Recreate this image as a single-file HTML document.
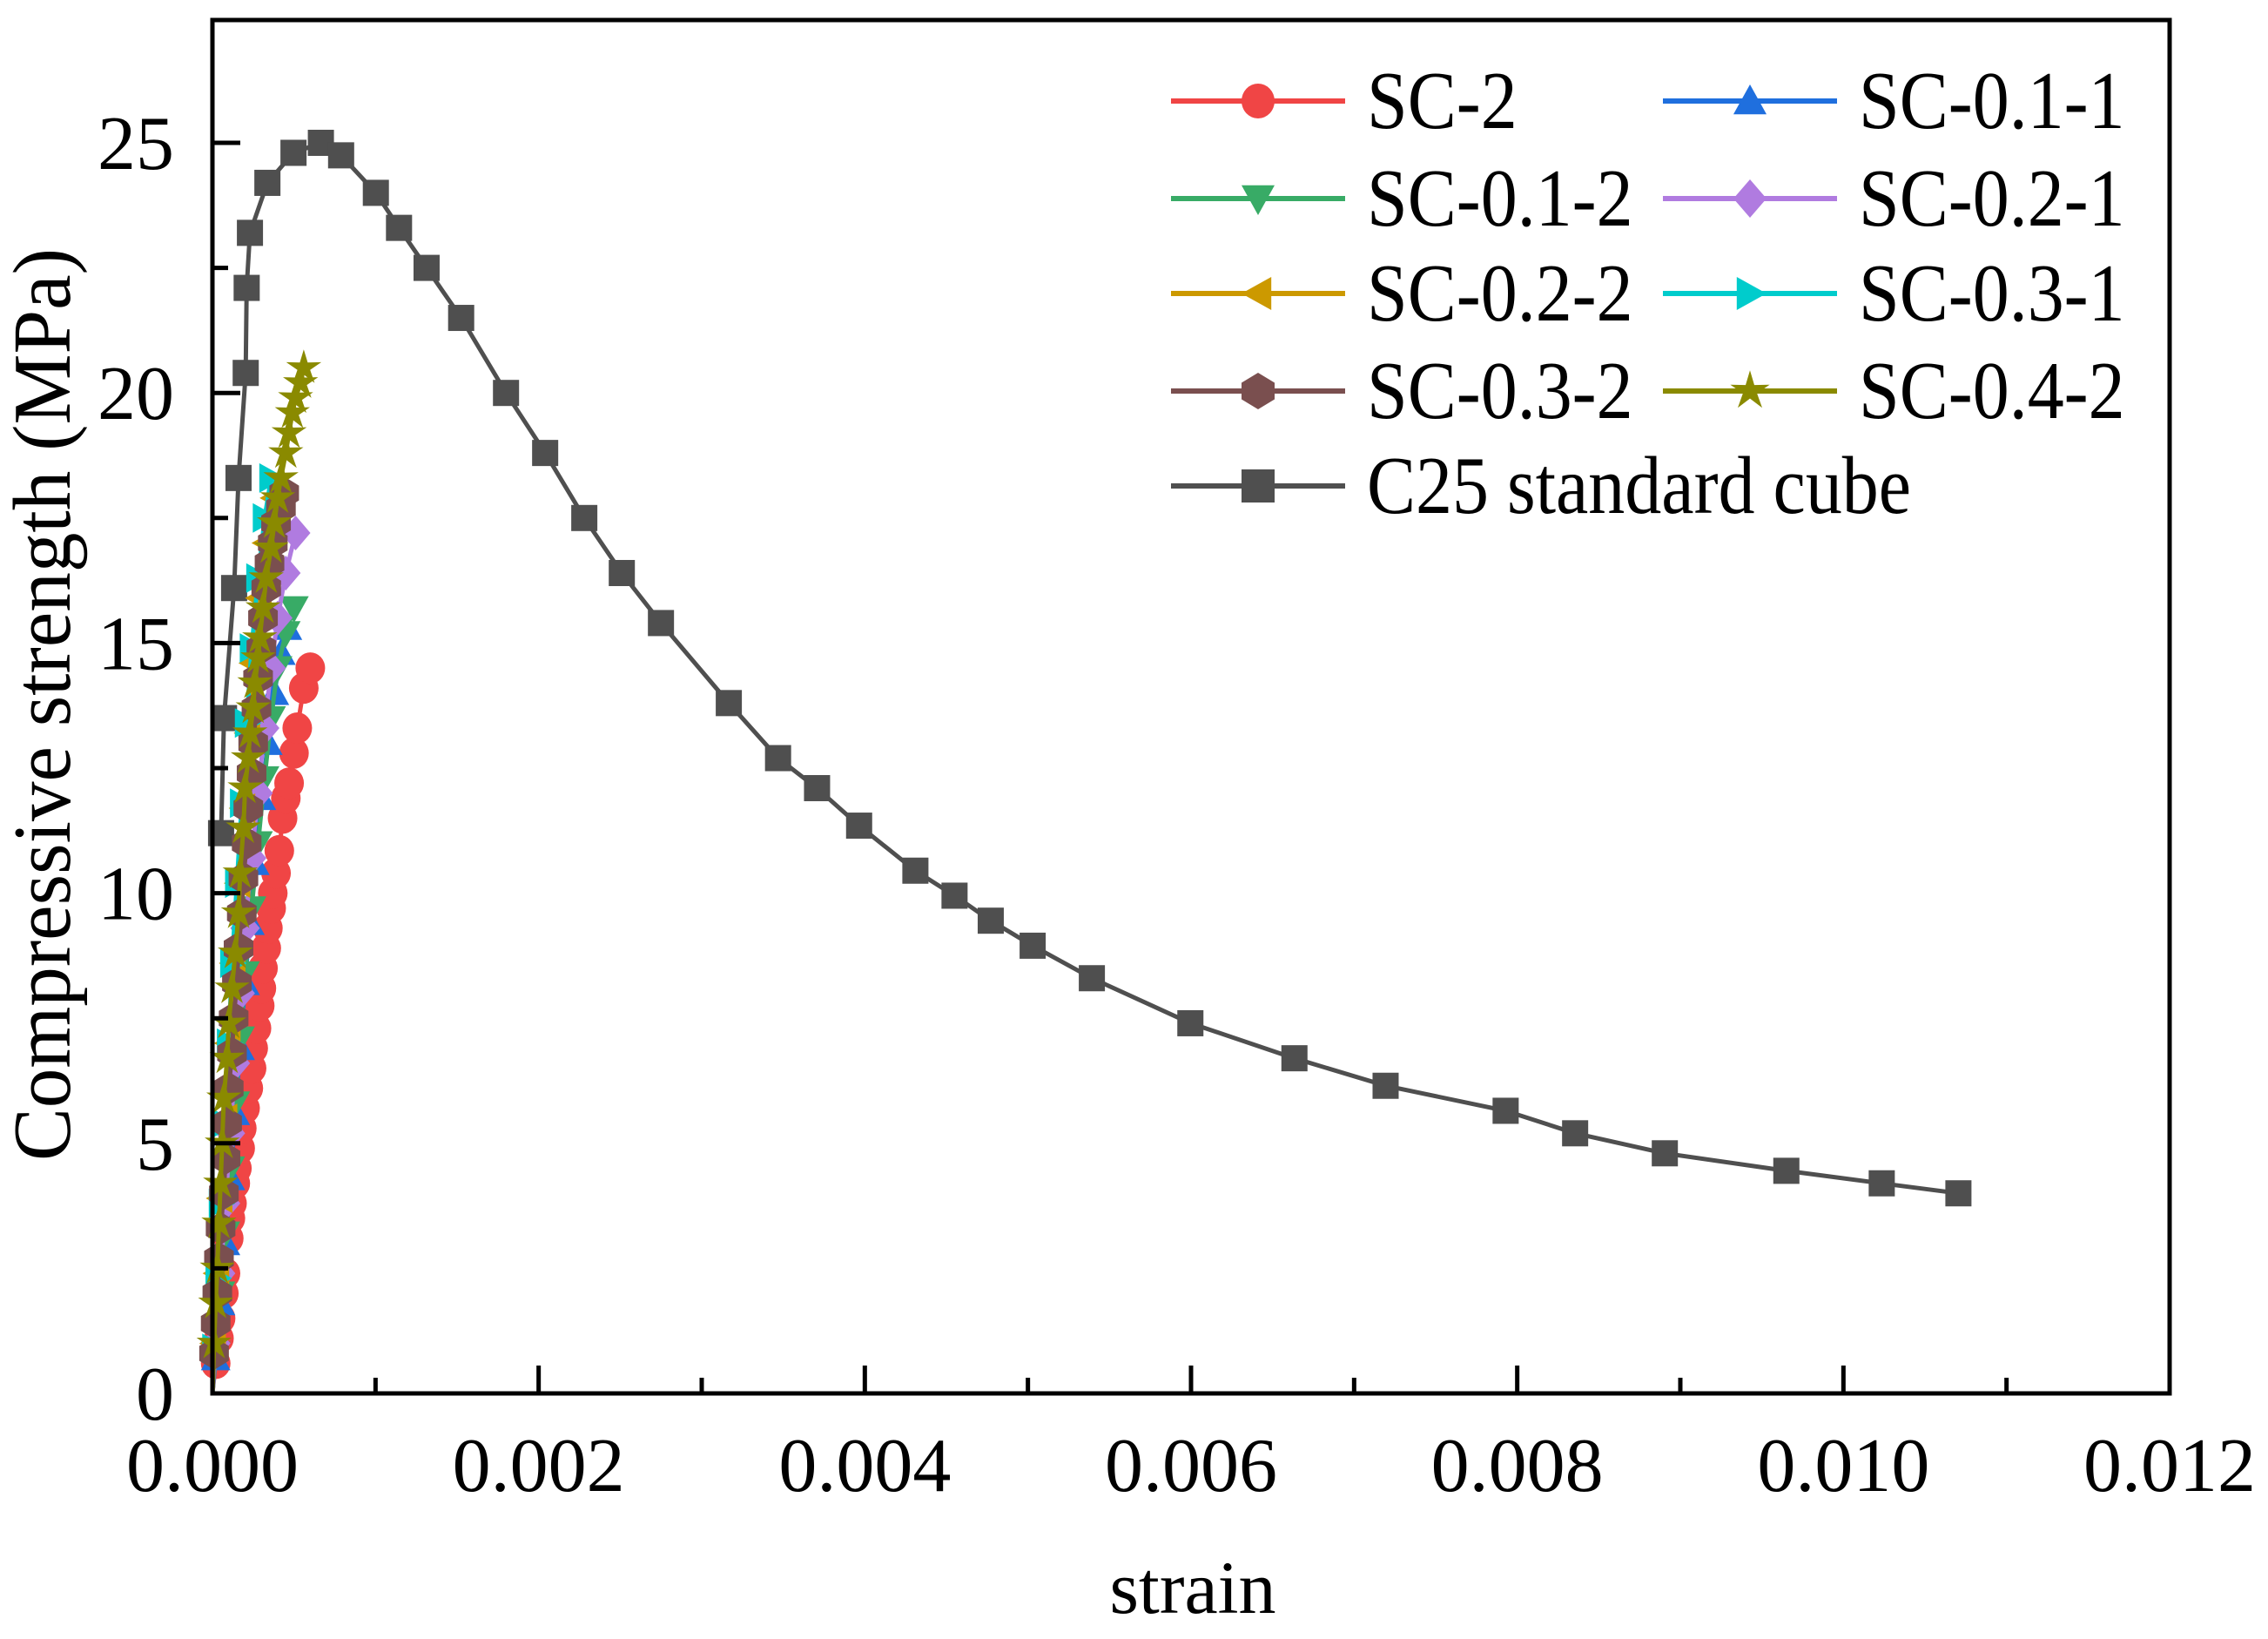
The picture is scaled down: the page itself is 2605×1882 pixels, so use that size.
<!DOCTYPE html>
<html><head><meta charset="utf-8"><style>
html,body{margin:0;padding:0;background:#fff}
svg{display:block}
text{font-family:"Liberation Serif",serif;fill:#000}
</style></head><body>
<svg id="chart" width="2605" height="1882" viewBox="0 0 2605 1882" xmlns="http://www.w3.org/2000/svg">
<g id="marks"></g>
<g id="axes"></g>
<g id="legend"></g>
<text x="1370" y="1852" font-size="86" text-anchor="middle">strain</text>
<text transform="translate(80,809) rotate(-90) scale(1.06,1.1)" font-size="86" text-anchor="middle">Compressive strength (MPa)</text>
</svg>
<script>
const xTicks = [0, 0.002, 0.004, 0.006, 0.008, 0.010, 0.012];
const xTickLabels = ["0.000","0.002","0.004","0.006","0.008","0.010","0.012"];
const yTicks = [0, 5, 10, 15, 20, 25];
const yTickLabels = ["0","5","10","15","20","25"];
const seriesNames = ["SC-2","SC-0.1-1","SC-0.1-2","SC-0.2-1","SC-0.2-2","SC-0.3-1","SC-0.3-2","SC-0.4-2","C25 standard cube"];
const sc2 = [[0.00002,0.6],[0.00004,1.1],[0.00005,1.5],[0.00007,2.0],[0.00008,2.4],[0.0001,3.1],[0.00011,3.5],[0.00012,3.8],[0.00014,4.2],[0.00015,4.5],[0.00017,4.9],[0.00018,5.3],[0.0002,5.7],[0.00022,6.1],[0.00024,6.5],[0.00025,6.9],[0.00027,7.3],[0.00029,7.75],[0.0003,8.1],[0.00031,8.5],[0.00033,8.9],[0.00034,9.3],[0.00036,9.7],[0.00037,10.0],[0.00039,10.4],[0.00041,10.85],[0.00043,11.5],[0.00045,11.9],[0.00047,12.2],[0.0005,12.8],[0.00052,13.3],[0.00056,14.1],[0.0006,14.5]];
const sc011 = [[0.00002,0.7],[0.00005,1.8],[0.00008,3.0],[0.00011,4.3],[0.00014,5.6],[0.00017,6.9],[0.0002,8.2],[0.00023,9.4],[0.00026,10.6],[0.0003,11.9],[0.00034,13.0],[0.00038,14.0],[0.00042,14.8],[0.00046,15.3]];
const sc012 = [[0.00002,0.8],[0.00005,2.0],[0.00008,3.2],[0.00011,4.5],[0.00014,5.8],[0.00017,7.1],[0.0002,8.4],[0.00024,9.7],[0.00028,11.0],[0.00032,12.3],[0.00036,13.5],[0.0004,14.5],[0.00045,15.2],[0.0005,15.7]];
const sc021 = [[0.00002,1.0],[0.00005,2.4],[0.00008,3.8],[0.00011,5.2],[0.00014,6.6],[0.00017,8.0],[0.0002,9.3],[0.00024,10.7],[0.00028,12.0],[0.00032,13.3],[0.00036,14.5],[0.0004,15.5],[0.00045,16.4],[0.00051,17.2]];
const sc022 = [[0.00001,1.0],[0.00003,2.4],[0.00005,3.9],[0.00008,5.5],[0.0001,7.0],[0.00013,8.6],[0.00016,10.2],[0.00019,11.7],[0.00022,13.2],[0.00025,14.6],[0.00029,15.9],[0.00033,17.0],[0.00038,17.9]];
const sc031 = [[0.00001,0.9],[0.00003,2.3],[0.00005,3.8],[0.00007,5.4],[0.0001,7.0],[0.00012,8.6],[0.00015,10.2],[0.00018,11.8],[0.00021,13.4],[0.00024,14.9],[0.00028,16.3],[0.00032,17.5],[0.00036,18.3]];
const sc032 = [[0.00001,0.8],[0.00002,1.4],[0.00003,2.0],[0.00004,2.7],[0.00005,3.3],[0.00007,4.0],[0.00008,4.7],[0.00009,5.4],[0.0001,6.1],[0.00012,6.8],[0.00013,7.5],[0.00015,8.2],[0.00016,8.9],[0.00018,9.6],[0.00019,10.3],[0.00021,11.0],[0.00022,11.7],[0.00024,12.4],[0.00025,13.0],[0.00027,13.7],[0.00028,14.3],[0.0003,14.9],[0.00031,15.5],[0.00033,16.1],[0.00035,16.6],[0.00037,17.0],[0.00039,17.4],[0.00042,17.7],[0.00044,18.0]];
const sc042 = [[0.00001,1.0],[0.00002,1.8],[0.00003,2.5],[0.00004,3.4],[0.00005,4.2],[0.00006,5.0],[0.00007,5.9],[0.00009,6.7],[0.0001,7.4],[0.00012,8.1],[0.00014,8.8],[0.00016,9.6],[0.00017,10.4],[0.00019,11.3],[0.0002,12.1],[0.00022,12.7],[0.00023,13.2],[0.00025,13.7],[0.00026,14.2],[0.00028,14.7],[0.00029,15.1],[0.00031,15.7],[0.00033,16.3],[0.00036,16.9],[0.00038,17.4],[0.0004,17.9],[0.00042,18.3],[0.00045,18.8],[0.00047,19.2],[0.00049,19.6],[0.00051,19.9],[0.00054,20.2],[0.00056,20.5]];
const c25 = [[0.000053,11.2],[0.000071,13.5],[0.000133,16.1],[0.00016,18.3],[0.000204,20.4],[0.00021,22.1],[0.00023,23.2],[0.000337,24.2],[0.000497,24.8],[0.000665,25.0],[0.000789,24.75],[0.001002,24.0],[0.001144,23.3],[0.001313,22.5],[0.001525,21.5],[0.0018,20.0],[0.00204,18.8],[0.00228,17.5],[0.00251,16.4],[0.00275,15.4],[0.003166,13.8],[0.003468,12.7],[0.003707,12.1],[0.003965,11.35],[0.00431,10.45],[0.00455,9.95],[0.004772,9.45],[0.005029,8.95],[0.005392,8.3],[0.005996,7.4],[0.006634,6.7],[0.007193,6.15],[0.007929,5.65],[0.008355,5.2],[0.008905,4.8],[0.00965,4.45],[0.010235,4.2],[0.010705,4.0]];

const NS="http://www.w3.org/2000/svg";
const X0=244, X1=2492, Y0=1600, Y1=23;
const xs = v => X0 + v/0.012*(X1-X0);
const ys = v => Y0 - v/25*(1600-164);
function mk(tag, attrs, parent){const e=document.createElementNS(NS,tag);for(const k in attrs)e.setAttribute(k,attrs[k]);parent.appendChild(e);return e;}

function marker(shape, cx, cy, color, parent, s){
  let e;
  if(shape==='circle') e=mk('ellipse',{cx,cy,rx:s,ry:s+1,fill:color},parent);
  else if(shape==='up') e=mk('polygon',{points:`${cx},${cy-s} ${cx+s},${cy+s*0.8} ${cx-s},${cy+s*0.8}`,fill:color},parent);
  else if(shape==='down') e=mk('polygon',{points:`${cx},${cy+s} ${cx+s},${cy-s*0.8} ${cx-s},${cy-s*0.8}`,fill:color},parent);
  else if(shape==='diamond') e=mk('polygon',{points:`${cx},${cy-s-3} ${cx+s},${cy} ${cx},${cy+s+3} ${cx-s},${cy}`,fill:color},parent);
  else if(shape==='left') e=mk('polygon',{points:`${cx-s},${cy} ${cx+s*0.8},${cy-s} ${cx+s*0.8},${cy+s}`,fill:color},parent);
  else if(shape==='right') e=mk('polygon',{points:`${cx+s},${cy} ${cx-s*0.8},${cy-s} ${cx-s*0.8},${cy+s}`,fill:color},parent);
  else if(shape==='hex') e=mk('polygon',{points:`${cx},${cy-s-2} ${cx+s},${cy-s*0.5} ${cx+s},${cy+s*0.5} ${cx},${cy+s+2} ${cx-s},${cy+s*0.5} ${cx-s},${cy-s*0.5}`,fill:color},parent);
  else if(shape==='star'){let p=[];for(let i=0;i<10;i++){const r=i%2?s*0.45:s*1.25;const a=-Math.PI/2+i*Math.PI/5;p.push((cx+r*Math.cos(a)).toFixed(1)+','+(cy+r*Math.sin(a)).toFixed(1));}e=mk('polygon',{points:p.join(' '),fill:color},parent);}
  else e=mk('rect',{x:cx-s,y:cy-s,width:2*s,height:2*s,fill:color},parent);
  return e;
}

const seriesData=[sc2,sc011,sc012,sc021,sc022,sc031,sc032,sc042,c25];
const colors=["#f04545","#1f6fde","#38ab66","#b07be0","#cc9900","#00cccc","#7a4f4f","#8a8a00","#4f4f4f"];
const shapes=["circle","up","down","diamond","left","right","hex","star","square"];
const slugs=["sc-2","sc-0-1-1","sc-0-1-2","sc-0-2-1","sc-0-2-2","sc-0-3-1","sc-0-3-2","sc-0-4-2","c25-standard-cube"];
const marks=document.getElementById('marks');
const drawOrder=[8,0,1,2,3,4,5,6,7];
drawOrder.forEach(i=>{
  const g=mk('g',{},marks);
  
  
  const pts=(i<8?[[0,0]]:[]).concat(seriesData[i]);
  const line=mk('polyline',{points:pts.map(p=>xs(p[0]).toFixed(1)+','+ys(p[1]).toFixed(1)).join(' '),fill:'none',stroke:colors[i],'stroke-width':5},g);
  
  
  seriesData[i].forEach(p=>{
    const m=marker(shapes[i],xs(p[0]),ys(p[1]),colors[i],g,i===8?15:17);
    
    
  });
});

const axes=document.getElementById('axes');
const frame=mk('rect',{x:X0,y:Y1,width:X1-X0,height:Y0-Y1,fill:'none',stroke:'#000','stroke-width':5},axes);


xTicks.forEach((v,i)=>{
  const x=xs(v);
  const t=mk('line',{x1:x,y1:Y0,x2:x,y2:Y0-32,stroke:'#000','stroke-width':5},axes);
  
  
  if(i<xTicks.length-1){const mx=xs(v+0.001);const m=mk('line',{x1:mx,y1:Y0,x2:mx,y2:Y0-18,stroke:'#000','stroke-width':5},axes);
  
  }
  const l=mk('text',{x:x,y:1712,'font-size':88,'text-anchor':'middle'},axes);
  l.textContent=xTickLabels[i];
  
  
});
yTicks.forEach((v,i)=>{
  const y=ys(v);
  const t=mk('line',{x1:X0,y1:y,x2:X0+32,y2:y,stroke:'#000','stroke-width':5},axes);
  
  
  const my=ys(v+2.5);
  if(my>Y1+5){const m=mk('line',{x1:X0,y1:my,x2:X0+18,y2:my,stroke:'#000','stroke-width':5},axes);
  
  }
  const l=mk('text',{x:200,y:y+30,'font-size':88,'text-anchor':'end'},axes);
  l.textContent=yTickLabels[i];
  
  
});

const legend=document.getElementById('legend');
const legRows=[116,228,337,449,558];
seriesNames.forEach((name,i)=>{
  const col=i<8?i%2:0, row=Math.floor(i/2);
  const lx=col?1910:1345, y=legRows[row];
  const g=mk('g',{},legend);
  
  
  mk('line',{x1:lx,y1:y,x2:lx+200,y2:y,stroke:colors[i],'stroke-width':6},g);
  marker(shapes[i],lx+100,y,colors[i],g,19);
  const t=mk('text',{x:lx+225,y:y+31,'font-size':84,transform:`translate(${lx+225},${y+31}) scale(1.0,1.12) translate(${-(lx+225)},${-(y+31)})`},g);
  t.textContent=name;
});
</script>
</body></html>
